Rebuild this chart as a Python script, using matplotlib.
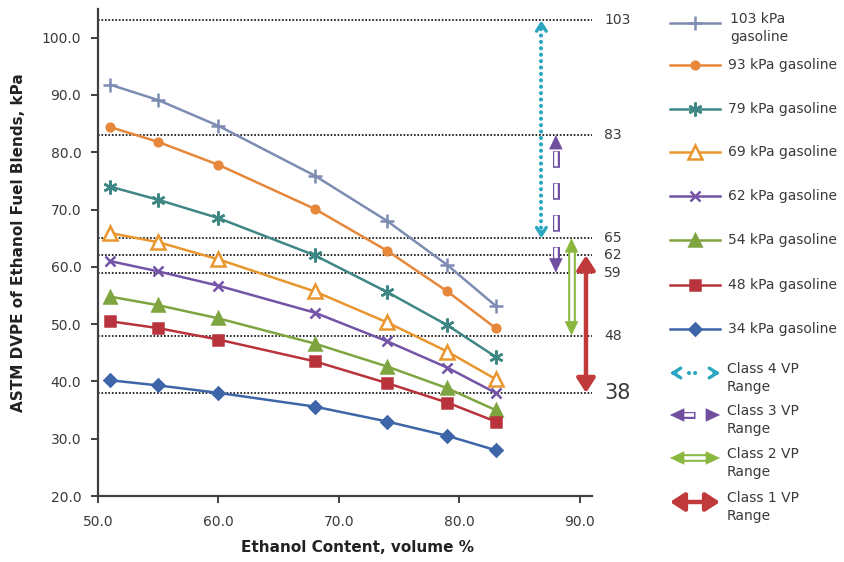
#!/usr/bin/env python3
"""
Ethanol fuel blend vapour pressure (ASTM DVPE) vs ethanol content,
one line per base gasoline, with the ASTM D5798 volatility class ranges.
"""

import matplotlib
matplotlib.use("Agg")
import matplotlib.pyplot as plt

plt.rcParams['lines.scale_dashes'] = False

# ---------------- data ----------------
ethanol_pct = [51, 55, 60, 68, 74, 79, 83]

series_names = ["103 kPa\ngasoline", "93 kPa gasoline", "79 kPa gasoline", "69 kPa gasoline",
                "62 kPa gasoline", "54 kPa gasoline", "48 kPa gasoline", "34 kPa gasoline"]
dvpe_103 = [91.8, 89.1, 84.6, 75.9, 68.0, 60.3, 53.2]
dvpe_93 = [84.4, 81.8, 77.8, 70.1, 62.8, 55.7, 49.3]
dvpe_79 = [74.0, 71.7, 68.5, 62.0, 55.6, 49.8, 44.3]
dvpe_69 = [65.9, 64.3, 61.3, 55.7, 50.3, 45.2, 40.4]
dvpe_62 = [61.0, 59.2, 56.7, 52.0, 47.0, 42.4, 38.0]
dvpe_54 = [54.8, 53.3, 51.0, 46.6, 42.6, 38.8, 35.0]
dvpe_48 = [50.5, 49.3, 47.3, 43.5, 39.7, 36.3, 33.0]
dvpe_34 = [40.2, 39.3, 38.0, 35.6, 33.0, 30.5, 28.0]
all_series = [dvpe_103, dvpe_93, dvpe_79, dvpe_69, dvpe_62, dvpe_54, dvpe_48, dvpe_34]

limit_lines = [103, 83, 65, 62, 59, 48, 38]

class_names = ["Class 4 VP\nRange", "Class 3 VP\nRange", "Class 2 VP\nRange", "Class 1 VP\nRange"]
class_low = [65, 59, 48, 38]
class_high = [103, 83, 65, 62]
class_x = [86.8, 88.0, 89.3, 90.5]

# ---------------- styles ----------------
colors = ["#7d8cb3", "#e6873a", "#3f8785", "#e9962f", "#7454a6", "#7ea53f", "#b8333c", "#3d65a8"]
markers = ["+", "o", (6, 2, 0), "^", "x", "^", "s", "D"]
msizes = [10, 5.5, 10, 9.5, 7, 8, 7.5, 6.5]
mfaces = [None, None, None, "white", None, None, None, None]
class_colors = ["#2aa7c0", "#6f4ea0", "#8ab83f", "#c0393b"]
txt_color = "#3a3a3a"
axis_color = "#404040"

fig = plt.figure(figsize=(8.45, 5.62), dpi=100)
ax = fig.add_axes([98 / 845, 1 - 496 / 562, 494 / 845, 487 / 562])

# horizontal limit lines with labels on the right
for v in limit_lines:
    ax.axhline(v, color="#1a1a1a", lw=1.3, ls=(0, (1.2, 1.3)), zorder=1)
    ax.text(1.025, v, str(v), transform=ax.get_yaxis_transform(), va="center", ha="left",
            color=txt_color, fontsize=15 if v == 38 else 10)

# data series
for vals, c, m, ms, mf in zip(all_series, colors, markers, msizes, mfaces):
    kw = dict(markerfacecolor=mf) if mf else {}
    ax.plot(ethanol_pct, vals, color=c, lw=1.8, marker=m, ms=ms, mew=1.8, zorder=3, **kw)


def arrowhead(a, tip, tail, color, style, lw=2.0):
    a.annotate("", xy=tip, xytext=tail,
               arrowprops=dict(arrowstyle=style, color=color, lw=lw, shrinkA=0, shrinkB=0))


CHEV = "->,head_length=0.55,head_width=0.35"
TRI = "-|>,head_length=0.95,head_width=0.45"

# class 4: dotted cyan with open chevrons
x, lo, hi, c = class_x[0], class_low[0], class_high[0], class_colors[0]
ax.plot([x, x], [lo + 0.8, hi - 0.8], color=c, lw=3, ls=(0, (0.01, 4.6)), dash_capstyle="round")
arrowhead(ax, (x, hi), (x, hi - 1.2), c, CHEV, 2.4)
arrowhead(ax, (x, lo), (x, lo + 1.2), c, CHEV, 2.4)

# class 3: hollow dashed purple
x, lo, hi, c = class_x[1], class_low[1], class_high[1], class_colors[1]
ax.plot([x, x], [lo + 2.3, hi - 2.3], color=c, lw=5, ls=(3, (12, 11)))
ax.plot([x, x], [lo + 2.3, hi - 2.3], color="white", lw=2.6, ls=(2.2, (10.4, 12.6)))
arrowhead(ax, (x, hi), (x, hi - 2.4), c, TRI, 0.5)
arrowhead(ax, (x, lo), (x, lo + 2.4), c, TRI, 0.5)

# class 2: hollow double-line green
x, lo, hi, c = class_x[2], class_low[2], class_high[2], class_colors[2]
ax.plot([x, x], [lo + 1.8, hi - 1.8], color=c, lw=5.5, solid_capstyle="butt")
ax.plot([x, x], [lo + 1.8, hi - 1.8], color="white", lw=2.6, solid_capstyle="butt")
arrowhead(ax, (x, hi), (x, hi - 2.4), c, TRI, 0.5)
arrowhead(ax, (x, lo), (x, lo + 2.4), c, TRI, 0.5)

# class 1: solid red
x, lo, hi, c = class_x[3], class_low[3], class_high[3], class_colors[3]
ax.annotate("", xy=(x, hi), xytext=(x, lo),
            arrowprops=dict(arrowstyle="<|-|>,head_length=0.85,head_width=0.55", color=c, lw=3.2,
                            shrinkA=0, shrinkB=0))

# axes styling
ax.set_xlim(50, 91)
ax.set_ylim(20, 105)
ax.set_xticks([50, 60, 70, 80, 90])
ax.set_yticks(range(20, 101, 10))
ax.xaxis.set_major_formatter(matplotlib.ticker.FormatStrFormatter("%.1f"))
ax.yaxis.set_major_formatter(matplotlib.ticker.FormatStrFormatter("%.1f"))
for s in ["top", "right"]:
    ax.spines[s].set_visible(False)
for s in ["left", "bottom"]:
    ax.spines[s].set_color(axis_color)
    ax.spines[s].set_linewidth(1.6)
ax.tick_params(colors=axis_color, labelcolor=txt_color, labelsize=10, width=1.4, length=5, pad=7)
ax.tick_params(axis="x", pad=9)
ax.set_xlabel("Ethanol Content, volume %", fontsize=11, fontweight="bold", color="#222222")
ax.set_ylabel("ASTM DVPE of Ethanol Fuel Blends, kPa", fontsize=11, fontweight="bold", color="#222222")
ax.xaxis.set_label_coords(0.525, -0.09)
ax.yaxis.set_label_coords(-0.145, 0.52)

# ---------------- legend (drawn by hand, pixel coordinates) ----------------
lg = fig.add_axes([0, 0, 1, 1])
lg.set_xlim(0, 845)
lg.set_ylim(562, 0)
lg.axis("off")

leg_y = [23, 65, 109, 152, 196, 240, 285, 329]
for name, c, m, ms, mf, y in zip(series_names, colors, markers, msizes, mfaces, leg_y):
    kw = dict(markerfacecolor=mf) if mf else {}
    lg.plot([670, 720], [y, y], color=c, lw=1.8)
    lg.plot([695], [y], color=c, marker=m, ms=ms, mew=1.8, **kw)
    if "\n" in name:
        lg.text(730, y - 11, name, va="top", ha="left", fontsize=10, color=txt_color, linespacing=1.35)
    else:
        lg.text(728, y, name, va="center", ha="left", fontsize=10, color=txt_color)

cls_y = [373, 415, 458, 502]
x0, x1 = 670, 720
# class 4 legend: chevrons with dots between
y, c = cls_y[0], class_colors[0]
lg.plot([689, 701], [y, y], color=c, lw=3, ls=(0, (0.01, 4.4)), dash_capstyle="round")
arrowhead(lg, (x0, y), (x0 + 6, y), c, CHEV, 2.4)
arrowhead(lg, (x1, y), (x1 - 6, y), c, CHEV, 2.4)
# class 3 legend: hollow shaft + filled heads
y, c = cls_y[1], class_colors[1]
lg.plot([x0 + 10, x0 + 25], [y, y], color=c, lw=5, solid_capstyle="butt")
lg.plot([x0 + 10, x0 + 24], [y, y], color="white", lw=2.6, solid_capstyle="butt")
arrowhead(lg, (x0, y), (x0 + 11, y), c, TRI, 0.5)
arrowhead(lg, (x1, y), (x1 - 11, y), c, TRI, 0.5)
# class 2 legend: double-line
y, c = cls_y[2], class_colors[2]
lg.plot([x0 + 11, x1 - 11], [y, y], color=c, lw=5.5, solid_capstyle="butt")
lg.plot([x0 + 11, x1 - 11], [y, y], color="white", lw=2.6, solid_capstyle="butt")
arrowhead(lg, (x0, y), (x0 + 12, y), c, TRI, 0.5)
arrowhead(lg, (x1, y), (x1 - 12, y), c, TRI, 0.5)
# class 1 legend: solid
y, c = cls_y[3], class_colors[3]
lg.annotate("", xy=(x0, y), xytext=(x1, y),
            arrowprops=dict(arrowstyle="<|-|>,head_length=0.85,head_width=0.55", color=c, lw=3.2,
                            shrinkA=0, shrinkB=0))

for name, y in zip(class_names, cls_y):
    lg.text(727, y - 11, name, va="top", ha="left", fontsize=10, color=txt_color, linespacing=1.35)

fig.savefig("out.png", dpi=100)
